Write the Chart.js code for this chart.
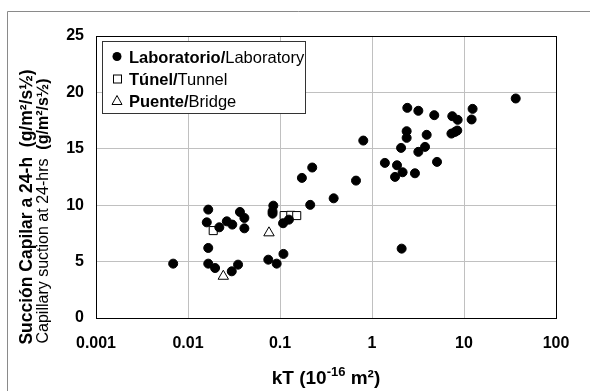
<!DOCTYPE html>
<html>
<head>
<meta charset="utf-8">
<script src="https://cdn.jsdelivr.net/npm/chart.js@4"></script>
<style>
html,body{margin:0;padding:0;background:#fff;}
canvas{display:block;}
</style>
</head>
<body>
<canvas id="c" width="590" height="391"></canvas>
<script>
// ---- data ----
const labKT = [0.0069,0.0166,0.0160,0.0166,0.0166,0.0197,0.0219,0.0264,0.0303,0.0299,0.035,0.0367,0.041,0.041,0.0746,0.092,0.109,0.0846,0.083,0.083,0.108,0.125,
  0.804,2.42,3.19,4.75,7.46,8.53,12.4,12.1,36.5,2.38,2.38,3.93,7.3,8.0,8.45,2.07,3.19,3.77,1.38,1.87,5.09,2.15,1.78,2.93,0.173,0.224,0.67,0.383,0.213,2.1];
const labSuction = [4.82,9.61,8.48,6.21,4.82,4.43,8.04,8.57,8.28,4.14,4.73,9.4,8.87,7.95,5.17,4.82,5.68,9.96,9.46,9.25,8.4,8.72,
  15.73,18.63,18.37,17.98,17.89,17.57,18.54,17.6,19.46,16.56,15.97,16.24,16.35,16.5,16.62,15.08,14.73,15.17,13.75,13.54,13.84,12.92,12.51,12.83,12.42,13.34,12.18,10.61,10.03,6.15];
const tunnelKT = [0.0188,0.111,0.131,0.152];
const tunnelSuction = [7.75,9.08,9.1,9.08];
const bridgeKT = [0.0242,0.0759];
const bridgeSuction = [3.7,7.55];
const xTicks = [0.001,0.01,0.1,1,10,100];
const yTicks = [0,5,10,15,20,25];
const legendEs = ["Laboratorio/","Túnel/","Puente/"];
const legendEn = ["Laboratory","Tunnel","Bridge"];

const FONT = "'Liberation Sans', Arial, Helvetica, sans-serif";
const toPts = (xs, ys) => xs.map((x,i)=>({x:x, y:ys[i]}));

const decor = {
  id:'decor',
  beforeDraw(chart){
    const ctx = chart.ctx;
    ctx.save();
    ctx.fillStyle='#fff';
    ctx.fillRect(0,0,chart.width,chart.height);
    ctx.strokeStyle='#8a8a8a';
    ctx.lineWidth=1;
    ctx.beginPath();
    ctx.moveTo(7.5, chart.height);
    ctx.lineTo(7.5, 11.5);
    ctx.lineTo(chart.width, 11.5);
    ctx.stroke();
    ctx.restore();
  },
  afterDraw(chart){
    const ctx = chart.ctx;
    const a = chart.chartArea;
    ctx.save();
    // plot frame
    ctx.strokeStyle='#000';
    ctx.lineWidth=1;
    ctx.strokeRect(Math.round(a.left)+0.5, Math.round(a.top)+0.5, Math.round(a.right-a.left), Math.round(a.bottom-a.top));

    // legend
    const lx=102.5, ly=41.5, lw=203, lh=72;
    ctx.fillStyle='#fff';
    ctx.fillRect(lx,ly,lw,lh);
    ctx.strokeStyle='#333';
    ctx.strokeRect(lx,ly,lw,lh);
    const rows=[56.5,78.5,100.5];
    const mx=117;
    rows.forEach((ry,i)=>{
      ctx.lineWidth=1;
      ctx.strokeStyle='#000';
      ctx.fillStyle='#000';
      if(i===0){
        ctx.beginPath(); ctx.arc(mx, ry, 4.5, 0, Math.PI*2); ctx.fill();
      } else if(i===1){
        ctx.fillStyle='#fff';
        ctx.fillRect(mx-4, ry-4, 8, 8);
        ctx.strokeRect(mx-4+0.5, ry-4+0.5, 8, 8);
      } else {
        ctx.beginPath();
        ctx.moveTo(mx, ry-5);
        ctx.lineTo(mx+5, ry+4);
        ctx.lineTo(mx-5, ry+4);
        ctx.closePath();
        ctx.fillStyle='#fff'; ctx.fill(); ctx.stroke();
      }
      ctx.fillStyle='#000';
      ctx.textBaseline='alphabetic';
      ctx.textAlign='left';
      ctx.font='bold 16.5px '+FONT;
      const tx=129;
      ctx.fillText(legendEs[i], tx, ry+6);
      const w=ctx.measureText(legendEs[i]).width;
      ctx.font='16.5px '+FONT;
      ctx.fillText(legendEn[i], tx+w, ry+6);
    });

    // x axis title
    const parts=[['bold 19px ','kT (10',0],['bold 13px ','-16',-8],['bold 19px ',' m²)',0]];
    let tot=0;
    parts.forEach(p=>{ctx.font=p[0]+FONT; tot+=ctx.measureText(p[1]).width;});
    let x=326-tot/2;
    ctx.fillStyle='#000';
    ctx.textAlign='left';
    ctx.textBaseline='alphabetic';
    parts.forEach(p=>{ctx.font=p[0]+FONT; ctx.fillText(p[1], x, 384+p[2]); x+=ctx.measureText(p[1]).width;});

    // y axis titles (rotated)
    const drawRot=(cx,cy,segs)=>{
      ctx.save();
      ctx.translate(cx,cy);
      ctx.rotate(-Math.PI/2);
      ctx.textBaseline='middle';
      ctx.textAlign='left';
      let t=0;
      segs.forEach(s=>{ctx.font=s[0]+FONT; t+=ctx.measureText(s[1]).width;});
      let xx=-t/2;
      segs.forEach(s=>{ctx.font=s[0]+FONT; ctx.fillText(s[1], xx, 0); xx+=ctx.measureText(s[1]).width;});
      ctx.restore();
    };
    drawRot(27,207,[['bold 17.5px ','Succión Capilar a 24-h  (g/m²/s½)']]);
    drawRot(43.5,211,[['16px ','Capillary suction at 24-hrs  '],['bold 16px ','(g/m²/s½)']]);
    ctx.restore();
  }
};

new Chart(document.getElementById('c'), {
  type:'scatter',
  data:{
    datasets:[
      {label:'Laboratorio/Laboratory', data:toPts(labKT,labSuction), pointStyle:'circle', pointRadius:4.5, borderWidth:1, borderColor:'#000', backgroundColor:'#000'},
      {label:'Túnel/Tunnel', data:toPts(tunnelKT,tunnelSuction), pointStyle:'rect', pointRadius:5.7, borderWidth:1, borderColor:'#000', backgroundColor:'#fff'},
      {label:'Puente/Bridge', data:toPts(bridgeKT,bridgeSuction), pointStyle:'triangle', pointRadius:6, borderWidth:1, borderColor:'#000', backgroundColor:'#fff'}
    ]
  },
  options:{
    responsive:false,
    animation:false,
    devicePixelRatio:1,
    layout:{padding:{left:0,top:36,right:34,bottom:0}},
    plugins:{legend:{display:false}, tooltip:{enabled:false}},
    scales:{
      x:{
        type:'logarithmic', min:0.001, max:100,
        afterBuildTicks:(s)=>{s.ticks = xTicks.map(v=>({value:v}));},
        afterFit:(s)=>{s.height=73;},
        ticks:{autoSkip:false, maxRotation:0, padding:16, color:'#000', font:{family:FONT, size:16, weight:'bold'}, callback:(v)=>String(v)},
        grid:{color:'#c0c0c0', lineWidth:1, drawTicks:false},
        border:{color:'#000', width:1}
      },
      y:{
        min:0, max:25,
        afterBuildTicks:(s)=>{s.ticks = yTicks.map(v=>({value:v}));},
        afterFit:(s)=>{s.width=96;},
        ticks:{padding:12, color:'#000', font:{family:FONT, size:16, weight:'bold'}},
        grid:{color:'#c0c0c0', lineWidth:1, drawTicks:false},
        border:{color:'#000', width:1}
      }
    }
  },
  plugins:[decor]
});
</script>
</body>
</html>
